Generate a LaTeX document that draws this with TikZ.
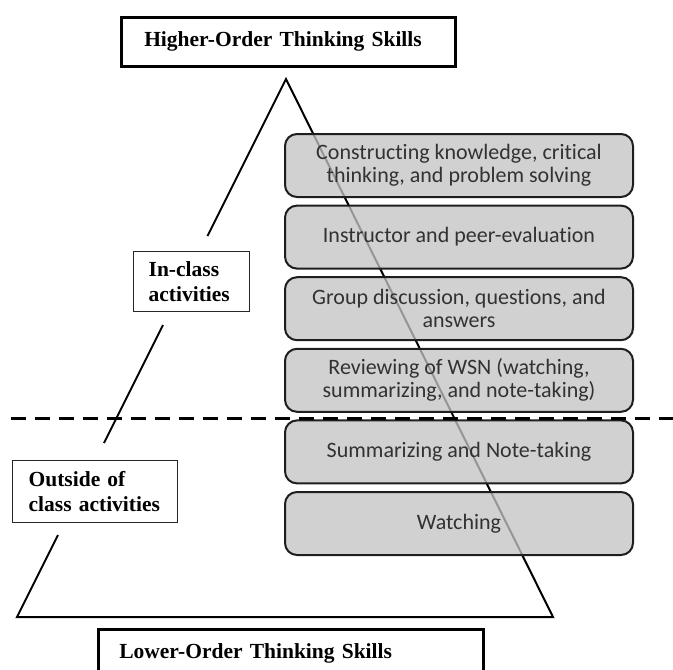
\documentclass[tikz,border=0pt]{standalone}
\usepackage{fontspec}
\setmainfont{Liberation Serif}
\newfontfamily\layerfont[Ligatures=NoCommon]{Carlito}
\definecolor{boxgray}{RGB}{195,195,195}
\definecolor{boxline}{RGB}{30,30,30}
\definecolor{boxtext}{RGB}{50,50,50}
\begin{document}
\begin{tikzpicture}[x=1pt,y=-1pt,
  tri/.style={line width=2pt, draw=black, line join=miter},
  layer/.style={draw=boxline, line width=2pt, rounded corners=12pt,
    fill=boxgray, fill opacity=0.77, draw opacity=1, text opacity=1,
    minimum width=348pt, minimum height=63pt, inner sep=0pt,
    align=center, text=boxtext,
    font=\layerfont\fontsize{22}{23}\selectfont},
  skill/.style={draw=black, line width=2.5pt, fill=white, inner sep=0pt,
    text width=#1, align=left, minimum height=49pt,
    font=\bfseries\fontsize{21.5}{25}\selectfont},
  phase/.style={draw=black!85, line width=1.3pt, fill=white, inner sep=0pt,
    text width=#1, align=left,
    font=\bfseries\fontsize{21.5}{25.5}\selectfont},
  divider/.style={line width=3pt, dash pattern=on 15pt off 9pt}
]
\useasboundingbox (0,0) rectangle (673,670);
\clip (0,0) rectangle (673,670);

% pyramid
\coordinate (apex) at (286,79);
\coordinate (bl) at (17,617);
\coordinate (br) at (553,617);
\coordinate (l1) at (207.5,236);
\coordinate (l2) at (163,325);
\coordinate (l3) at (104,443);
\coordinate (l4) at (58,535);
\draw[tri] (l4) -- (bl) -- (br) -- (apex) -- (l1);
\draw[tri] (l2) -- (l3);

% layers
\node[layer] (b1) at (459,165.5) {Constructing knowledge, critical\\thinking, and problem solving};
\node[layer] (b2) at (459,237.1) {Instructor and peer-evaluation};
\node[layer] (b3) at (459,308.7) {Group discussion, questions, and\\answers};
\node[layer] (b4) at (459,380.3) {Reviewing of WSN (watching,\\summarizing, and note-taking)};
\node[layer] (b5) at (459,451.9) {Summarizing and Note-taking};
\node[layer] (b6) at (459,523.5) {Watching};

% divider
\coordinate (dl) at (11,418);
\coordinate (dr) at (673,418);
\draw[divider] (dl) -- (dr);

% labels
\node[skill=288pt, minimum width=334pt, anchor=north west, inner xsep=23pt] (hots) at (120,16) {Higher-Order Thinking Skills};
\node[skill=343pt, minimum width=385pt, anchor=north west, inner xsep=21pt] (lots) at (97,628) {Lower-Order Thinking Skills};
\node[phase=86pt, minimum width=116pt, minimum height=60pt, anchor=north west, inner xsep=15pt] (inclass) at (133,251) {In-class\\activities};
\node[phase=133pt, minimum width=165pt, minimum height=62pt, anchor=north west, inner xsep=16pt] (outside) at (12,460) {Outside of\\class activities};
\end{tikzpicture}
\end{document}
